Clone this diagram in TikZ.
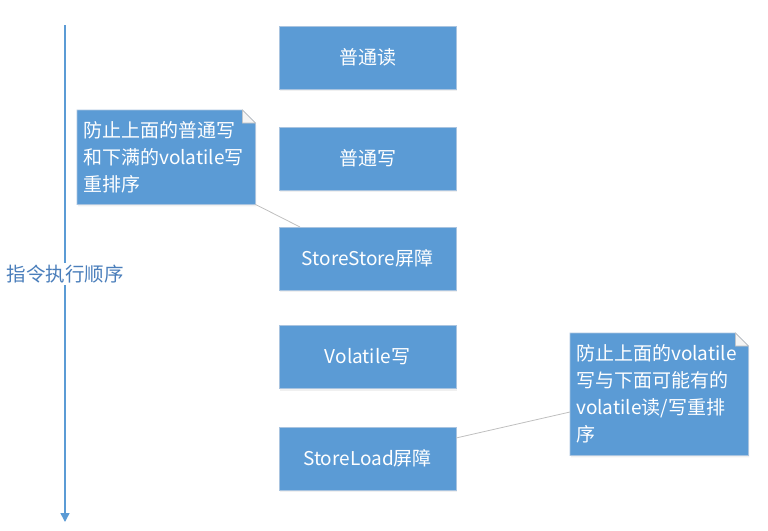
\documentclass[tikz,border=0pt]{standalone}
\usepackage{fontspec}
\setmainfont{Noto Sans CJK SC}
\usetikzlibrary{arrows.meta,backgrounds,shadows}

\definecolor{boxblue}{HTML}{5B9BD5}
\definecolor{boxedge}{HTML}{A9C4E0}
\definecolor{labelblue}{HTML}{4A7EBB}
\definecolor{leadgray}{HTML}{BFBFBF}

\tikzset{
	stepbox/.style = {fill = boxblue, draw = boxedge, line width = 0.8pt, text = white,
		minimum width = 177pt, minimum height = 63pt, inner sep = 0pt,
		font = \fontsize{19}{24}\selectfont,
		drop shadow = {opacity = 0.12, shadow xshift = 1pt, shadow yshift = -2pt}},
	notebox/.style = {text = white, align = left, inner xsep = 6pt, inner ysep = 6pt, text width = 166pt,
		minimum width = 178pt, anchor = north west,
		font = \fontsize{19}{27}\selectfont},
	leader/.style = {draw = leadgray, line width = 0.8pt}
}

\begin{document}
\begin{tikzpicture}[x = 1pt, y = -1pt]

	\useasboundingbox (0, 0) rectangle (768, 530);

	% Order of execution

	\draw [boxblue, line width = 1.6pt, -{Triangle[width = 9pt, length = 9pt]}] (65, 25) -- (65, 522);
	\node (order) [fill = white, text = labelblue, inner sep = 2pt, font = \fontsize{19.5}{24}\selectfont] at (65, 274) {指令执行顺序};

	% Instructions and barriers

	\node (nr) [stepbox] at (367.5, 57.5) {普通读};
	\node (nw) [stepbox] at (367.5, 158.5) {普通写};
	\node (ss) [stepbox] at (367.5, 258.5) {StoreStore屏障};
	\node (vw) [stepbox] at (367.5, 357) {Volatile写};
	\node (sl) [stepbox] at (367.5, 458.5) {StoreLoad屏障};

	% Notes with folded corner

	\node (note1) [notebox, minimum height = 94pt] at (77, 110) {防止上面的普通写\\和下满的volatile写\\重排序};
	\node (note2) [notebox, minimum height = 122pt] at (570, 333) {防止上面的volatile\\写与下面可能有的\\volatile读/写重排\\序};

	\begin{scope}[on background layer]
		\foreach \n in {note1, note2} {
			\fill [boxblue, draw = boxedge, line width = 0.8pt, drop shadow = {opacity = 0.12, shadow xshift = 1pt, shadow yshift = -2pt}]
				(\n.south west) -- (\n.north west) -- ([xshift = -13pt] \n.north east)
				-- ([yshift = -13pt] \n.north east) -- (\n.south east) -- cycle;
			\filldraw [fill = white!92!gray, draw = leadgray, line width = 0.6pt]
				([xshift = -13pt] \n.north east) -- ([yshift = -13pt] \n.north east)
				-- ([xshift = -13pt, yshift = -13pt] \n.north east) -- cycle;
		}
	\end{scope}

	% Leaders from notes to barriers

	\coordinate (ssTip) at (300, 227);
	\coordinate (slTip) at (456, 438);
	\draw [leader] (note1.south east) -- (ssTip);
	\draw [leader] ([yshift = -79pt] note2.north west) -- (slTip);

\end{tikzpicture}
\end{document}
